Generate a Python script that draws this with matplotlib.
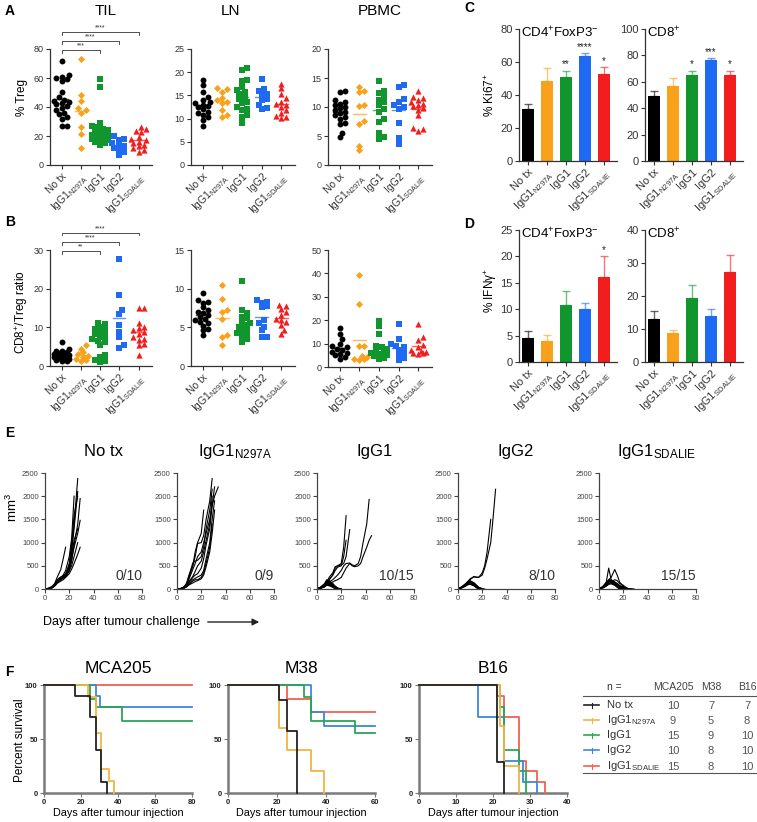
import numpy as np
import matplotlib
matplotlib.use('Agg')
import matplotlib.pyplot as plt
from matplotlib.patches import FancyArrowPatch

plt.rcParams['font.family'] = ['Liberation Sans', 'DejaVu Sans']
plt.rcParams['mathtext.fontset'] = 'custom'
plt.rcParams['mathtext.rm'] = 'Liberation Sans'
plt.rcParams['mathtext.it'] = 'Liberation Sans:italic'
plt.rcParams['mathtext.bf'] = 'Liberation Sans:bold'
plt.rcParams['mathtext.default'] = 'regular'

# ---- data ----
groups = ['No tx', 'IgG1$_{N297A}$', 'IgG1', 'IgG2', 'IgG1$_{SDALIE}$']
colors = ['#000000', '#F9A11B', '#10962C', '#1F6AF2', '#F21D1D']
km_colors = ['#222222', '#F2B443', '#2AA556', '#3E88D8', '#F2614F']
markers = ['o', 'D', 's', 's', '^']
msize = [18, 13, 16, 16, 20]

# A: % Treg
treg_til = [[71.5, 62, 61, 60, 59, 58, 50.5, 47, 45, 44, 43.5, 43, 42, 40.5, 39.5, 38, 36, 35, 33, 32, 27, 27],
            [73, 48, 44, 39, 38, 36, 26, 21.5, 12],
            [59.5, 53.5, 29, 27, 26, 25, 24, 23, 22.5, 22, 21, 20, 19.5, 19, 18, 17.5, 17, 16, 15, 13.5],
            [20, 18, 17.5, 15, 14, 13, 12, 11, 9, 7],
            [26, 25, 23.5, 22.5, 19.5, 18, 17, 16, 15, 14, 13, 11.5, 10, 9]]
treg_ln = [[18.3, 17.2, 15.8, 14.7, 14, 13.6, 13.3, 13, 12.7, 12.4, 12, 11.5, 11.2, 10.8, 10.4, 9.8, 8.3],
           [16.5, 16.3, 15.8, 14.4, 14, 13.6, 13.3, 11.9, 10.8, 10.3],
           [20.8, 20.5, 18.3, 18, 16.9, 16.2, 15.8, 15.3, 14.7, 14.2, 13.6, 13.3, 12.4, 12, 11.9, 10.8, 10.4, 9],
           [18.5, 16.3, 16, 15.4, 15.1, 14.2, 14, 12.9, 12.2, 12],
           [17.5, 16.5, 15.4, 14.4, 13.6, 13.2, 12.9, 12.6, 11.9, 11.1, 10.6, 10.4, 10.1]]
treg_pbmc = [[12.8, 12.5, 11.2, 10.9, 10.6, 10.3, 10, 9.8, 9.5, 9.2, 8.9, 8.6, 8.3, 8, 7.2, 7, 5.5, 4.8],
             [13.4, 12.7, 12.5, 10.3, 10.2, 7.5, 7, 3.3, 2.5],
             [14.4, 12.7, 12.4, 11.8, 11.2, 10.8, 10.3, 9.7, 9.1, 8, 7.4, 5.6, 4.9, 4.4],
             [13.8, 13.5, 11.3, 10.8, 10.3, 10, 9.7, 7.2, 4.6, 3.6],
             [12.8, 11.8, 11.5, 11.2, 10.8, 10.6, 10.3, 10.1, 9.8, 9.5, 8.6, 6.4, 6.2, 5.9]]

# B: CD8/Treg ratio
ratio_til = [[6.1, 4.4, 4, 3.8, 3.5, 3.3, 3.1, 3, 2.8, 2.7, 2.6, 2.4, 2.2, 2.1, 2, 1.8, 1.6, 1.4, 1.2],
             [5.4, 4.5, 3.5, 3.2, 2.5, 2.3, 1.9, 1.5, 1.3],
             [11.1, 10.9, 10, 9.5, 9.2, 8.6, 8.2, 7.8, 7.5, 7.1, 6.5, 6.2, 5.4, 2.8, 2.3, 1.5, 1.3, 1],
             [27.6, 18.3, 14.4, 13.4, 10.5, 8.8, 7.5, 5.5, 4.7],
             [14.9, 14.9, 11.1, 10.1, 9.7, 9.2, 8.8, 8.4, 7.5, 7, 6.7, 5.8, 5.4, 2.8]]
ratio_ln = [[9.4, 8.5, 8.3, 8.2, 7.6, 7.2, 7, 6.8, 6.6, 6.3, 6.1, 5.9, 5.7, 5.5, 5.2, 4.8, 4.6, 4],
            [10.5, 8.6, 7.2, 7, 6.1, 4, 3.7, 2.7],
            [11, 7.2, 6.8, 6.4, 6.2, 5.8, 5.5, 5.3, 5.1, 4.8, 4.6, 4.3, 4.2, 3.9, 3.5, 3.1],
            [8.5, 8.3, 8.2, 7.7, 7.6, 5.9, 5.5, 5.1, 4.6, 3.8, 3.8],
            [7.9, 7.7, 7.4, 7, 6.6, 6.1, 5.9, 5.7, 5.3, 4.7, 4.2]]
ratio_pbmc = [[16.6, 14.3, 11.8, 10, 9, 8.6, 7.9, 7.1, 6.5, 6, 5.7, 5, 4.3, 3.6],
              [39.4, 27.1, 9.1, 8.9, 4.5, 4.3, 3.6, 3.4, 3.1],
              [19.6, 17.4, 13.9, 9.1, 8.6, 7.5, 7, 6.4, 6, 5.5, 5, 4.5, 4, 3.6],
              [18.3, 12.1, 10, 9, 8.5, 7.3, 6, 5.1, 4, 3],
              [18.3, 13, 11.5, 9.5, 8.7, 7.3, 7, 6.5, 6.1, 5.8, 5.5]]

# C: % Ki67+, D: % IFNg+ (mean, SEM)
ki67_cd4 = [31.4, 48.6, 51.0, 63.4, 52.8]
ki67_cd4_sem = [3.4, 7.7, 3.7, 2.0, 3.9]
ki67_cd4_sig = ['', '', '**', '****', '*']
ki67_cd8 = [49.6, 57.0, 65.0, 76.7, 65.3]
ki67_cd8_sem = [3.6, 5.5, 3.4, 1.3, 3.1]
ki67_cd8_sig = ['', '', '*', '***', '*']
ifng_cd4 = [4.5, 3.9, 10.85, 10.0, 16.1]
ifng_cd4_sem = [1.3, 1.3, 2.55, 1.2, 3.9]
ifng_cd4_sig = ['', '', '', '', '*']
ifng_cd8 = [12.9, 8.8, 19.5, 14.0, 27.2]
ifng_cd8_sem = [2.6, 0.8, 3.7, 2.0, 5.2]
ifng_cd8_sig = ['', '', '', '', '']

# E: tumour growth (mm3), per mouse on the measurement days
meas_days = [0, 3, 6, 8, 10, 13, 15, 17, 20, 22, 24, 27, 29, 31, 34, 36, 38, 41, 43, 45]
growth_notx = [[0, 20, 60, 120, 250, 420, 650, 900],
               [0, 10, 40, 90, 180, 230, 260, 300, 500, 900, 1400, 2380],
               [0, 10, 35, 80, 160, 220, 250, 280, 450, 800, 1300, 2100],
               [0, 12, 40, 90, 200, 260, 280, 320, 550, 1000, 1600, 2000],
               [0, 8, 30, 70, 150, 200, 230, 260, 380, 600, 950, 1400, 1950],
               [0, 8, 30, 70, 140, 200, 240, 300, 420, 650, 900, 1200, 1480],
               [0, 10, 35, 80, 170, 230, 270, 330, 500, 750, 1050, 1300],
               [0, 6, 25, 60, 120, 170, 200, 250, 330, 430, 550, 750, 900],
               [0, 8, 30, 75, 160, 210, 250, 300, 400, 500, 700, 1000],
               [0, 10, 40, 90, 190, 250, 300, 400, 700, 1100, 2000]]
growth_n297a = [[0, 10, 40, 100, 250, 500, 700, 980, 1000, 1150, 1500, 1900, 2380],
                [0, 10, 50, 120, 300, 560, 600, 620, 700, 900, 1300, 1700, 2150],
                [0, 10, 40, 100, 220, 420, 550, 700, 800, 1000, 1200, 1500, 1800, 2200],
                [0, 10, 50, 130, 300, 500, 800, 1000, 1200, 1700],
                [0, 8, 30, 70, 150, 250, 300, 330, 450, 650, 950, 1300, 1800, 2000, 2200],
                [0, 6, 25, 60, 120, 200, 230, 260, 300, 400, 650, 1000, 1500, 1900],
                [0, 6, 20, 50, 100, 170, 200, 200, 250, 350, 550, 900, 1400],
                [0, 5, 20, 50, 90, 130, 160, 180, 220, 300, 480, 800, 1200, 1700],
                [0, 8, 30, 80, 160, 270, 380, 500, 600, 800, 1050, 1400, 2000]]
growth_igg1 = [[0, 30, 80, 120, 100, 60, 20, 0],
               [0, 40, 100, 150, 130, 80, 30, 0],
               [0, 20, 60, 90, 80, 40, 10, 0],
               [0, 30, 90, 180, 160, 100, 50, 10, 0],
               [0, 25, 70, 110, 90, 50, 20, 0],
               [0, 35, 100, 200, 180, 120, 60, 20, 0],
               [0, 20, 50, 80, 70, 40, 0],
               [0, 30, 80, 140, 120, 70, 30, 0],
               [0, 25, 60, 100, 110, 90, 60, 20, 0],
               [0, 40, 110, 160, 140, 90, 40, 10, 0],
               [0, 30, 80, 150, 250, 350, 480, 500, 550, 900, 1580],
               [0, 20, 60, 120, 200, 300, 450, 500, 520, 550, 700, 1280],
               [0, 20, 50, 100, 150, 200, 250, 300, 400, 500, 550, 560, 520, 500, 550, 700, 1000, 1400, 1930],
               [0, 15, 40, 80, 120, 150, 180, 200, 250, 350, 450, 550, 500, 480, 500, 550, 700, 900, 1050, 1150],
               [0, 25, 70, 130, 200, 300, 400, 470, 500, 700, 1050]]
growth_igg2 = [[0, 30, 80, 150, 200, 270, 250, 250, 300, 450, 650, 1000, 1550, 2150],
               [0, 30, 90, 160, 220, 260, 260, 250, 350, 500, 800, 1500],
               [0, 40, 90, 130, 150, 100, 60, 20, 0],
               [0, 30, 70, 110, 130, 90, 40, 10, 0],
               [0, 50, 110, 160, 180, 120, 70, 30, 0],
               [0, 20, 60, 90, 100, 70, 30, 0],
               [0, 40, 100, 140, 160, 130, 80, 30, 10, 0],
               [0, 30, 80, 120, 140, 100, 50, 0],
               [0, 25, 60, 100, 110, 80, 40, 10, 0],
               [0, 35, 90, 150, 170, 140, 90, 40, 0]]
growth_sdalie = [[0, 50, 150, 450, 200, 100, 50, 0],
                 [0, 40, 120, 200, 250, 420, 300, 150, 60, 0],
                 [0, 40, 110, 180, 200, 150, 100, 60, 20, 0],
                 [0, 30, 100, 170, 180, 120, 60, 20, 0],
                 [0, 50, 130, 200, 180, 130, 80, 30, 0],
                 [0, 30, 90, 150, 140, 100, 50, 10, 0],
                 [0, 40, 100, 160, 170, 150, 120, 80, 40, 20, 0],
                 [0, 20, 70, 120, 130, 90, 40, 0],
                 [0, 30, 80, 130, 150, 110, 70, 30, 0],
                 [0, 40, 110, 170, 160, 100, 60, 20, 0],
                 [0, 25, 80, 140, 150, 130, 100, 60, 30, 10, 0],
                 [0, 35, 90, 140, 130, 90, 40, 0],
                 [0, 30, 100, 160, 150, 200, 180, 120, 80, 40, 10, 0],
                 [0, 20, 60, 100, 110, 80, 50, 20, 0],
                 [0, 30, 80, 120, 140, 130, 100, 70, 40, 20, 10, 5, 0]]
growth_titles = ['No tx', 'IgG1$_{N297A}$', 'IgG1', 'IgG2', 'IgG1$_{SDALIE}$']
growth_free = ['0/10', '0/9', '10/15', '8/10', '15/15']

# F: survival, day of death per mouse (survivors not listed)
models = ['MCA205', 'M38', 'B16']
model_n = [[10, 9, 15, 10, 15], [7, 5, 9, 8, 8], [7, 8, 10, 10, 10]]
model_tmax = [80, 60, 40]
deaths = [
    [[17, 25, 25, 28, 28, 28, 31, 31, 31, 34],
     [24, 28, 28, 28, 31, 31, 31, 35, 38],
     [25, 25, 28, 42, 42],
     [28, 30],
     []],
    [[21, 24, 24, 28, 28, 28, 28],
     [21, 21, 24, 34, 39],
     [31, 34, 34, 52],
     [34, 34, 39],
     [24, 34]],
    [[21, 21, 21, 21, 21, 23, 23],
     [22, 22, 22, 23, 23, 23, 27, 27],
     [22, 22, 23, 23, 23, 23, 27, 27, 29, 29],
     [16, 16, 16, 23, 23, 23, 23, 28, 28, 32],
     [21, 23, 23, 27, 27, 27, 27, 29, 32, 34]],
]

W, H = 757, 822
fig = plt.figure(figsize=(W / 100, H / 100), dpi=100)


def box(l, t, r, b):
    return [l / W, 1 - b / H, (r - l) / W, (b - t) / H]


def ftext(x, y, s, **kw):
    fig.text(x / W, 1 - y / H, s, **kw)


def style(ax, size=7, col='#333333'):
    for s in ['top', 'right']:
        ax.spines[s].set_visible(False)
    for s in ['left', 'bottom']:
        ax.spines[s].set_color(col)
        ax.spines[s].set_linewidth(0.9)
    ax.tick_params(labelsize=size, colors=col, length=3, width=0.8, pad=1.5)


def swarm(ax, vals, ymax):
    bb = ax.get_position()
    w_px, h_px = bb.width * W, bb.height * H
    x0, x1 = ax.get_xlim()
    per_px = (x1 - x0) / w_px
    ysc = h_px / ymax
    d = 4.6
    placed = []
    offs = np.zeros(len(vals))
    for i in np.argsort(vals):
        y = vals[i] * ysc
        best, bestx, bestd = None, 0, -1
        for c in [0, 1, -1, 2, -2, 3, -3]:
            x = c * d * 0.55
            dm = min([np.hypot(x - px, y - py) for px, py in placed] or [99])
            if dm >= d:
                best = x
                break
            if dm > bestd:
                bestd, bestx = dm, x
        if best is None:
            best = bestx
        placed.append((best, y))
        offs[i] = best * per_px
    return offs


def dot_panel(rect, data, ymax, step, brackets=None):
    ax = fig.add_axes(box(*rect))
    ax.set_xlim(-0.6, 4.7)
    ax.set_ylim(0, ymax)
    for i, vals in enumerate(data):
        vals = np.array(vals, dtype=float)
        offs = swarm(ax, vals, ymax)
        ax.plot([i - 0.32, i + 0.32], [vals.mean()] * 2, color=colors[i], lw=1, zorder=1, alpha=0.7)
        ax.scatter(i + offs, vals, s=msize[i], marker=markers[i], color=colors[i], lw=0, zorder=2, clip_on=False)
    style(ax, size=6.5)
    ax.set_yticks(np.arange(0, ymax + 0.01, step))
    ax.set_xticks(range(5))
    ax.set_xticklabels(groups, rotation=45, ha='right', rotation_mode='anchor', fontsize=7.5)
    if brackets:
        for j, y, stars in brackets:
            tk = ymax * 0.025
            ax.plot([0, 0, j, j], [y - tk, y, y, y - tk], color='#333333', lw=0.6, clip_on=False)
            ax.text(j / 2, y + ymax * 0.004, stars, ha='center', va='bottom', fontsize=5, color='#333333')
    return ax


def bar_panel(rect, means, sems, sig, ymax, step, label):
    ax = fig.add_axes(box(*rect))
    x = np.arange(5)
    ax.set_xlim(-0.46, 4.7)
    ax.set_ylim(0, ymax)
    ax.bar(x, means, width=0.62, color=colors, zorder=2)
    for i in x:
        ax.errorbar(i, means[i], yerr=[[0], [sems[i]]], color=colors[i], capsize=3, lw=1,
                    capthick=1, alpha=0.6, zorder=1)
        if sig[i]:
            ax.text(i, means[i] + sems[i] + ymax * 0.01, sig[i], ha='center', va='bottom', fontsize=7, color='#222222')
    style(ax, size=8)
    ax.set_yticks(np.arange(0, ymax + 0.01, step))
    ax.set_xticks(x)
    ax.set_xticklabels(groups, rotation=45, ha='right', rotation_mode='anchor', fontsize=8)
    ax.text(0.02, 1.03, label, transform=ax.transAxes, ha='left', va='top', fontsize=9.5)
    return ax


# ---- A ----
dot_panel((50, 49, 152, 165), treg_til, 80, 20,
          brackets=[(2, 79.5, '***'), (3, 85.7, '****'), (4, 91.8, '****')])
dot_panel((191, 49, 295, 165), treg_ln, 25, 5)
dot_panel((328, 49, 432, 165), treg_pbmc, 20, 5)
ftext(106, 11, 'TIL', fontsize=11, ha='center', va='center')
ftext(231, 11, 'LN', fontsize=11, ha='center', va='center')
ftext(380, 11, 'PBMC', fontsize=11, ha='center', va='center')
ftext(22, 97, '% Treg', fontsize=8.5, rotation=90, ha='center', va='center')

# ---- B ----
dot_panel((50, 250, 152, 366), ratio_til, 30, 10,
          brackets=[(2, 29.7, '**'), (3, 32.1, '****'), (4, 34.5, '****')])
dot_panel((191, 250, 295, 366), ratio_ln, 15, 5)
dot_panel((328, 250, 432, 367), ratio_pbmc, 50, 10)
ftext(22, 312, 'CD8$^{+}$/Treg ratio', fontsize=8.5, rotation=90, ha='center', va='center')

# ---- C / D ----
bar_panel((519, 29, 617, 161), ki67_cd4, ki67_cd4_sem, ki67_cd4_sig, 80, 20, 'CD4$^{+}$FoxP3$^{-}$')
bar_panel((645, 29, 743, 161), ki67_cd8, ki67_cd8_sem, ki67_cd8_sig, 100, 20, 'CD8$^{+}$')
bar_panel((519, 230, 617, 362), ifng_cd4, ifng_cd4_sem, ifng_cd4_sig, 25, 5, 'CD4$^{+}$FoxP3$^{-}$')
bar_panel((645, 230, 743, 362), ifng_cd8, ifng_cd8_sem, ifng_cd8_sig, 40, 10, 'CD8$^{+}$')
ftext(490, 95, '% Ki67$^{+}$', fontsize=8.5, rotation=90, ha='center', va='center')
ftext(491, 290, '% IFN\u03b3$^{+}$', fontsize=8.5, rotation=90, ha='center', va='center')

# ---- E ----
growth = [growth_notx, growth_n297a, growth_igg1, growth_igg2, growth_sdalie]
e_left = [45, 177, 317, 458, 599]
for k, mice in enumerate(growth):
    ax = fig.add_axes(box(e_left[k], 473, e_left[k] + 97, 589))
    for vol in mice:
        ax.plot(meas_days[:len(vol)], vol, color='black', lw=0.8)
    ax.set_xlim(0, 80)
    ax.set_ylim(0, 2500)
    ax.set_xticks([0, 20, 40, 60, 80])
    ax.set_yticks([0, 500, 1000, 1500, 2000, 2500])
    style(ax, size=5.5, col='#444444')
    ax.text(1.0, 0.05, growth_free[k], transform=ax.transAxes, ha='right', va='bottom', fontsize=10, color='#333333')
    ftext(e_left[k] + 58, 451, growth_titles[k], fontsize=12, ha='center', va='center')
ftext(12, 508, 'mm$^{3}$', fontsize=9.5, rotation=90, ha='center', va='center')
ftext(43, 622, 'Days after tumour challenge', fontsize=9, ha='left', va='center')
fig.add_artist(FancyArrowPatch((205 / W, 1 - 622 / H), (262 / W, 1 - 622 / H), transform=fig.transFigure,
                               arrowstyle='-|>', mutation_scale=10, color='#222222', lw=1))

# ---- F ----
f_box = [(44, 685, 192, 793), (228, 685, 375, 793), (419, 685, 567, 793)]
f_ticks = [[0, 20, 40, 60, 80], [0, 20, 40, 60], [0, 10, 20, 30, 40]]
for m in range(3):
    ax = fig.add_axes(box(*f_box[m]))
    tmax = model_tmax[m]
    for g in range(5):
        n = model_n[m][g]
        dd = deaths[m][g]
        t, s = [0], [100.0]
        alive = n
        for d in sorted(set(dd)):
            t.append(d)
            s.append(100.0 * alive / n)
            alive -= dd.count(d)
            t.append(d)
            s.append(100.0 * alive / n)
        if alive > 0:
            t.append(tmax)
            s.append(100.0 * alive / n)
        ax.plot(t, s, color=km_colors[g], lw=1.3, clip_on=False, zorder=3 + (4 - g) * 0.1)
    ax.set_xlim(0, tmax)
    ax.set_ylim(0, 100)
    ax.set_xticks(f_ticks[m])
    ax.set_yticks([0, 50, 100])
    style(ax, size=5.5, col='#7a7a7a')
    for s in ['left', 'bottom']:
        ax.spines[s].set_linewidth(1.8)
    for lab in ax.get_xticklabels() + ax.get_yticklabels():
        lab.set_fontweight('bold')
        lab.set_color('#222222')
    ax.set_xlabel('Days after tumour injection', fontsize=7.8, labelpad=1)
    ftext((f_box[m][0] + f_box[m][2]) / 2, 668, models[m], fontsize=12.5, ha='center', va='center')
ftext(20, 740, 'Percent survival', fontsize=8.5, rotation=90, ha='center', va='center')

# table of group sizes
col_x = [673, 711, 747]
ftext(607, 687, 'n =', fontsize=7.5, ha='left', va='center', color='#333333')
for c, name in enumerate(models):
    ftext(col_x[c], 687, name, fontsize=7.5, ha='center', va='center', color='#444444')
fig.add_artist(plt.Line2D([583 / W, 757 / W], [1 - 696 / H] * 2, color='#555555', lw=0.8))
fig.add_artist(plt.Line2D([583 / W, 757 / W], [1 - 773 / H] * 2, color='#555555', lw=0.8))
row_y = [705, 720, 735, 750, 766]
for g in range(5):
    y = 1 - row_y[g] / H
    fig.add_artist(plt.Line2D([584 / W, 599 / W], [y, y], color=km_colors[g], lw=1.2))
    fig.add_artist(plt.Line2D([591.5 / W, 591.5 / W], [y - 2.5 / H, y + 2.5 / H], color=km_colors[g], lw=0.8))
    ftext(607, row_y[g], groups[g], fontsize=8, ha='left', va='center', color='#333333')
    for c in range(3):
        ftext(col_x[c], row_y[g] + 1, str(model_n[c][g]), fontsize=8, ha='center', va='center', color='#555555')

# panel letters
for letter, x, y in [('A', 5, 11), ('B', 5, 222), ('C', 464, 8), ('D', 464, 224), ('E', 5, 433), ('F', 5, 672)]:
    ftext(x, y, letter, fontsize=10, fontweight='bold', ha='left', va='center')

fig.savefig('out.png', dpi=100)
